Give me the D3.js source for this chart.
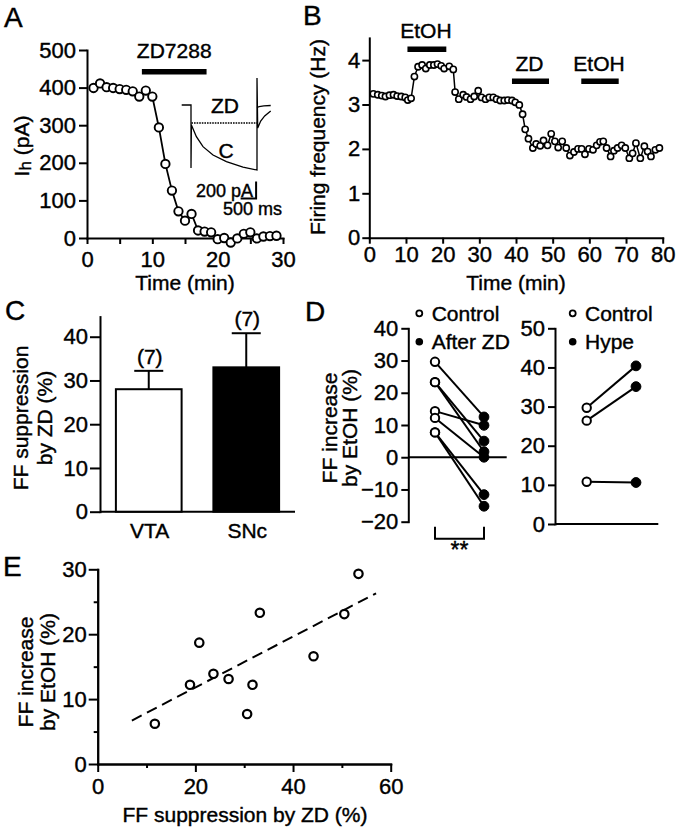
<!DOCTYPE html>
<html><head><meta charset="utf-8">
<script src="https://cdn.jsdelivr.net/npm/d3@7"></script>
<style>
body{margin:0;background:#fff;}
svg text{font-family:'Liberation Sans',Arial,Helvetica,sans-serif;fill:#000;stroke:#000;stroke-width:0.4px;}
</style></head><body>
<svg id="fig" width="680" height="831"></svg>
<script>
// ---------- DATA ----------
// Panel A: Ih over time
const aTime = [1,2,3,4,5,6,7,8,9,10,11,12,13,14,15,16,17,18,19,20,21,22,23,24,25,26,27,28,29];
const aIh   = [399,411,401,399,396,394,390,376,392,376,294,197,126,71,46,64,20,17,15,-3,0,-12,-1,11,15,-1,4,5,6];
const aXTicks = [0,5,10,15,20,25,30];
const aXLabels = [0,10,20,30];
const aYTicks = [0,100,200,300,400,500];
const aDrug = [{label:"ZD7288", from:8.4, to:18.3}];
// Panel A inset traces (ms, pA)
const insetC  = [[0,0],[300,0],[300,-740],[313,-235],[474,-373],[687,-490],[1010,-588],[1442,-667],[1977,-732],[2429,-765],[2429,318],[2452,-271],[2548,-188],[2677,-129],[2871,-71]];
const insetZD = [[313,-212],[2429,-212]];
const insetZDTail = [[2429,-30],[2500,-18],[2650,-10],[2871,-6]];
const insetScale = {ms:500, pA:200};

// Panel B: firing frequency
const bTime = [1.1,2.3,3.4,4.4,5.5,6.6,7.6,8.7,9.8,10.5,11.4,12.3,13.3,14.4,15.4,16.5,17.6,18.6,19.6,20.4,21.8,22.9,23.4,24.4,25.6,26.5,27.6,28.6,29.7,30.6,31.7,32.7,33.8,34.7,35.7,36.8,37.8,38.9,39.8,40.9,41.8,42.5,43.4,44.6,45.5,46.6,47.5,48.6,49.6,50.6,51.5,52.6,53.7,54.7,55.8,56.9,57.9,58.8,59.9,61.0,62.0,62.9,63.8,64.7,65.8,66.7,67.7,68.8,69.8,70.9,71.8,72.7,73.9,75.0,75.9,76.8,78.0,79.1];
const bFreq = [3.24,3.22,3.20,3.18,3.21,3.22,3.19,3.18,3.16,3.10,3.14,3.63,3.85,3.89,3.81,3.89,3.89,3.91,3.87,3.81,3.86,3.79,3.28,3.12,3.22,3.17,3.12,3.18,3.31,3.16,3.12,3.16,3.16,3.12,3.09,3.09,3.10,3.09,3.05,2.99,2.78,2.44,2.23,2.02,2.11,2.07,2.19,2.08,2.34,2.17,2.03,2.17,2.02,1.85,1.93,2.00,2.00,1.88,2.00,1.98,2.08,2.16,2.17,2.02,1.83,1.96,2.02,2.08,2.02,1.79,1.90,2.13,1.79,2.06,1.94,1.83,1.98,2.02];
const bXTicks = [0,10,20,30,40,50,60,70,80];
const bYTicks = [0,1,2,3,4];
const bDrugs = [{label:"EtOH", from:10.4, to:21.0, row:0},{label:"ZD", from:38.9, to:49.0, row:1},{label:"EtOH", from:57.8, to:68.0, row:1}];

// Panel C: bars
const cCats = ["VTA","SNc"];
const cMean = [28.0, 33.0];
const cSem  = [4.2, 7.8];
const cN    = ["(7)","(7)"];
const cYTicks = [0,10,20,30,40];

// Panel D left: control vs after ZD
const dGroups = ["Control","After ZD"];
const dCtrl = [29.6, 23.3, 23.3, 14.3, 12.2, 7.7, 7.7];
const dZD   = [12.5, 5.0, 1.7, 9.9, 0.0, -11.6, -15.2];
const dYTicks = [-20,-10,0,10,20,30,40];
// Panel D right: control vs Hype
const hGroups = ["Control","Hype"];
const hCtrl = [29.7, 26.4, 10.8];
const hHype = [40.4, 35.1, 10.6];
const hYTicks = [0,10,20,30,40,50];

// Panel E: scatter
const eX = [11.7,18.9,20.8,23.7,26.8,30.6,31.7,33.2,44.2,50.5,53.4];
const eY = [6.2,12.2,18.7,13.9,13.1,7.7,12.2,23.3,16.6,23.1,29.3];
const eFitX = [7, 57];
const eFitY = [6.7, 26.3];
const eXMajor = [0,20,40,60], eXMinor = [10,30,50];
const eYMajor = [0,10,20,30], eYMinor = [5,15,25];

// ---------- DRAWING ----------
const FONT = "'Liberation Sans', Arial, Helvetica, sans-serif";
const FS = 21, TFS = 22;
const svg = d3.select("#fig");

function axisStyle(g){
  g.attr("font-family", FONT).attr("font-size", TFS);
  g.select(".domain").attr("stroke","#000").attr("stroke-width",2).attr("stroke-linecap","square");
  g.selectAll(".tick line").attr("stroke","#000").attr("stroke-width",2);
  g.selectAll(".tick text").attr("fill","#000");
}
function label(x,y,s,size,anchor){
  return svg.append("text").attr("x",x).attr("y",y).attr("font-size",size||FS)
    .attr("text-anchor",anchor||"start").text(s);
}
function vlabel(x,y,s,size){
  return svg.append("text").attr("transform",`translate(${x},${y}) rotate(-90)`)
    .attr("font-size",size||FS).attr("text-anchor","middle").text(s);
}
const fmtInt = d3.format("d");

// Panel letters
label(4,27,"A",28); label(303,25,"B",28); label(5,320,"C",28); label(305,321,"D",28); label(3,576,"E",28);

// ===== Panel A =====
const aX = d3.scaleLinear().domain([0,30]).range([87,283]);
const aY = d3.scaleLinear().domain([0,500]).range([238,50]);
svg.append("g").attr("transform","translate(0,238)")
  .call(d3.axisBottom(aX).tickValues(aXTicks).tickFormat(d=>aXLabels.includes(d)?d:"").tickSize(6).tickPadding(7).tickSizeOuter(0)).call(axisStyle);
svg.append("g").attr("transform","translate(87,0)")
  .call(d3.axisLeft(aY).tickValues(aYTicks).tickSize(8).tickPadding(3).tickSizeOuter(0)).call(axisStyle);
const aPts = aTime.map((t,i)=>[t,aIh[i]]);
svg.append("path").datum(aPts).attr("fill","none").attr("stroke","#000").attr("stroke-width",1.8)
  .attr("d", d3.line().x(d=>aX(d[0])).y(d=>aY(d[1])));
svg.append("g").selectAll("circle").data(aPts).join("circle")
  .attr("cx",d=>aX(d[0])).attr("cy",d=>aY(d[1])).attr("r",4.2)
  .attr("fill","#fff").attr("stroke","#000").attr("stroke-width",1.9);
aDrug.forEach(b=>{
  svg.append("rect").attr("x",aX(b.from)).attr("y",69).attr("width",aX(b.to)-aX(b.from)).attr("height",5.5).attr("fill","#000");
  label((aX(b.from)+aX(b.to))/2,58,b.label,FS,"middle");
});
label(185,290,"Time (min)",FS,"middle");
const ihLab = svg.append("text").attr("transform","translate(29,146) rotate(-90)").attr("font-size",FS).attr("text-anchor","middle");
ihLab.append("tspan").text("I");
ihLab.append("tspan").attr("font-size",17).attr("dy",2).text("h");
ihLab.append("tspan").attr("dy",-2).text(" (pA)");

// inset
const iX = d3.scaleLinear().domain([0,3000]).range([181.7,274.7]);
const iY = d3.scaleLinear().domain([0,-800]).range([105,173]);
const iLine = d3.line().x(d=>iX(d[0])).y(d=>iY(d[1]));
svg.append("path").datum(insetC).attr("fill","none").attr("stroke","#000").attr("stroke-width",1.3).attr("d",iLine);
svg.append("path").datum(insetZD).attr("fill","none").attr("stroke","#000").attr("stroke-width",1.3).attr("stroke-dasharray","1.6,1").attr("d",iLine);
svg.append("path").datum(insetZDTail).attr("fill","none").attr("stroke","#000").attr("stroke-width",1.3).attr("d",iLine);
label(225,113,"ZD",FS,"middle");
label(226,158,"C",FS,"middle");
// scale bars
const sbT = 2400, sbP = -900;
svg.append("path").attr("fill","none").attr("stroke","#000").attr("stroke-width",2)
  .attr("d",`M${iX(sbT)},${iY(sbP)}V${iY(sbP-insetScale.pA)}H${iX(sbT-insetScale.ms)}`);
label(iX(sbT)-3,197,"200 pA",18,"end");
label(223,215,"500 ms",18,"start");

// ===== Panel B =====
const bX = d3.scaleLinear().domain([0,80]).range([369.3,662.7]);
const bY = d3.scaleLinear().domain([0,4.5]).range([237.7,37.9]);
svg.append("g").attr("transform","translate(0,237.7)")
  .call(d3.axisBottom(bX).tickValues(bXTicks).tickFormat(fmtInt).tickSize(6).tickPadding(3).tickSizeOuter(0)).call(axisStyle);
svg.append("g").attr("transform","translate(369.3,0)")
  .call(d3.axisLeft(bY).tickValues(bYTicks).tickFormat(fmtInt).tickSize(7).tickPadding(2).tickSizeOuter(0)).call(axisStyle);
const bPts = bTime.map((t,i)=>[t,bFreq[i]]);
svg.append("path").datum(bPts).attr("fill","none").attr("stroke","#000").attr("stroke-width",1.5)
  .attr("d", d3.line().x(d=>bX(d[0])).y(d=>bY(d[1])));
svg.append("g").selectAll("circle").data(bPts).join("circle")
  .attr("cx",d=>bX(d[0])).attr("cy",d=>bY(d[1])).attr("r",3.1)
  .attr("fill","#fff").attr("stroke","#000").attr("stroke-width",1.6);
const rowBarY = [46.5, 78.5], rowTextY = [38, 70.7];
bDrugs.forEach(b=>{
  svg.append("rect").attr("x",bX(b.from)).attr("y",rowBarY[b.row]).attr("width",bX(b.to)-bX(b.from)).attr("height",5.5).attr("fill","#000");
  label((bX(b.from)+bX(b.to))/2-1,rowTextY[b.row],b.label,FS,"middle");
});
label(516,290,"Time (min)",FS,"middle");
vlabel(325,137,"Firing frequency (Hz)");

// ===== Panel C =====
const cX = d3.scaleBand().domain(cCats).range([100,295]).paddingInner(0.326).paddingOuter(0.163);
const cY = d3.scaleLinear().domain([0,44.6]).range([511.7,316.6]);
svg.append("g").attr("transform","translate(100,0)")
  .call(d3.axisLeft(cY).tickValues(cYTicks).tickSize(10).tickPadding(2).tickSizeOuter(0)).call(axisStyle);
svg.append("line").attr("x1",100).attr("x2",295).attr("y1",cY(0)).attr("y2",cY(0)).attr("stroke","#000").attr("stroke-width",2);
const cFill = ["#fff","#000"];
cCats.forEach((c,i)=>{
  const cx = cX(c)+cX.bandwidth()/2;
  svg.append("line").attr("x1",cx).attr("x2",cx).attr("y1",cY(cMean[i])).attr("y2",cY(cMean[i]+cSem[i])).attr("stroke","#000").attr("stroke-width",2);
  svg.append("line").attr("x1",cx-14.5).attr("x2",cx+14.5).attr("y1",cY(cMean[i]+cSem[i])).attr("y2",cY(cMean[i]+cSem[i])).attr("stroke","#000").attr("stroke-width",2);
  svg.append("rect").attr("x",cX(c)).attr("width",cX.bandwidth()).attr("y",cY(cMean[i])).attr("height",cY(0)-cY(cMean[i]))
    .attr("fill",cFill[i]).attr("stroke","#000").attr("stroke-width",2);
  label(cx+1,cY(cMean[i]+cSem[i])-7,cN[i],FS,"middle");
  label(cx+1,538,c,FS,"middle");
});
vlabel(28,418,"FF suppression");
vlabel(52,418,"by ZD (%)");

// ===== Panel D left =====
const dX = d3.scalePoint().domain(dGroups).range([435,484]);
const dY = d3.scaleLinear().domain([-20,40]).range([521.7,328.3]);
svg.append("g").attr("transform","translate(408.3,0)")
  .call(d3.axisLeft(dY).tickValues(dYTicks).tickSize(7).tickPadding(3).tickSizeOuter(0)).call(axisStyle);
svg.append("line").attr("x1",408.3).attr("x2",506.7).attr("y1",dY(0)).attr("y2",dY(0)).attr("stroke","#000").attr("stroke-width",2);
dCtrl.forEach((v,i)=>{
  svg.append("line").attr("x1",dX("Control")).attr("y1",dY(v)).attr("x2",dX("After ZD")).attr("y2",dY(dZD[i])).attr("stroke","#000").attr("stroke-width",2);
});
dCtrl.forEach(v=>svg.append("circle").attr("cx",dX("Control")).attr("cy",dY(v)).attr("r",4.2).attr("fill","#fff").attr("stroke","#000").attr("stroke-width",2));
dZD.forEach(v=>svg.append("circle").attr("cx",dX("After ZD")).attr("cy",dY(v)).attr("r",4.9).attr("fill","#000").attr("stroke","#000").attr("stroke-width",1));
// significance bracket
const brY = dY(-20)+17;
svg.append("path").attr("fill","none").attr("stroke","#000").attr("stroke-width",2)
  .attr("d",`M${dX("Control")},${dY(-20)+5}V${brY}H${dX("After ZD")}V${dY(-20)+5}`);
label((dX("Control")+dX("After ZD"))/2,558,"**",23,"middle");
// legend
svg.append("circle").attr("cx",419.3).attr("cy",313.3).attr("r",3).attr("fill","#fff").attr("stroke","#000").attr("stroke-width",1.8);
label(431.7,320.7,dGroups[0]);
svg.append("circle").attr("cx",419.3).attr("cy",341.7).attr("r",3.8).attr("fill","#000");
label(431.7,348.5,dGroups[1]);
vlabel(337,428,"FF increase");
vlabel(357,428,"by EtOH (%)");

// ===== Panel D right =====
const hX = d3.scalePoint().domain(hGroups).range([586.7,636]);
const hY = d3.scaleLinear().domain([0,50]).range([524,328.3]);
svg.append("g").attr("transform","translate(555,0)")
  .call(d3.axisLeft(hY).tickValues(hYTicks).tickSize(7).tickPadding(3).tickSizeOuter(0)).call(axisStyle);
svg.append("line").attr("x1",555).attr("x2",658.3).attr("y1",hY(0)).attr("y2",hY(0)).attr("stroke","#000").attr("stroke-width",2);
hCtrl.forEach((v,i)=>{
  svg.append("line").attr("x1",hX("Control")).attr("y1",hY(v)).attr("x2",hX("Hype")).attr("y2",hY(hHype[i])).attr("stroke","#000").attr("stroke-width",2);
});
hCtrl.forEach(v=>svg.append("circle").attr("cx",hX("Control")).attr("cy",hY(v)).attr("r",4.2).attr("fill","#fff").attr("stroke","#000").attr("stroke-width",2));
hHype.forEach(v=>svg.append("circle").attr("cx",hX("Hype")).attr("cy",hY(v)).attr("r",4.9).attr("fill","#000").attr("stroke","#000").attr("stroke-width",1));
svg.append("circle").attr("cx",572.7).attr("cy",313.3).attr("r",3).attr("fill","#fff").attr("stroke","#000").attr("stroke-width",1.8);
label(585,320.7,hGroups[0]);
svg.append("circle").attr("cx",572.7).attr("cy",341.7).attr("r",3.8).attr("fill","#000");
label(585,348.5,hGroups[1]);

// ===== Panel E =====
const eXs = d3.scaleLinear().domain([0,60]).range([97.7,390.7]);
const eYs = d3.scaleLinear().domain([0,30]).range([764,569.3]);
svg.append("g").attr("transform","translate(0,764)")
  .call(d3.axisBottom(eXs).tickValues(eXMinor).tickSize(4).tickFormat("").tickSizeOuter(0)).call(axisStyle);
svg.append("g").attr("transform","translate(0,764)")
  .call(d3.axisBottom(eXs).tickValues(eXMajor).tickSize(8).tickPadding(6).tickSizeOuter(0)).call(axisStyle);
svg.append("g").attr("transform","translate(97.7,0)")
  .call(d3.axisLeft(eYs).tickValues(eYMinor).tickSize(4).tickFormat("").tickSizeOuter(0)).call(axisStyle);
svg.append("g").attr("transform","translate(97.7,0)")
  .call(d3.axisLeft(eYs).tickValues(eYMajor).tickSize(9).tickPadding(2).tickSizeOuter(0)).call(axisStyle);
svg.append("path").datum(eFitX.map((x,i)=>[x,eFitY[i]])).attr("fill","none").attr("stroke","#000").attr("stroke-width",2)
  .attr("stroke-dasharray","11,6").attr("d",d3.line().x(d=>eXs(d[0])).y(d=>eYs(d[1])));
svg.append("g").selectAll("circle").data(eX.map((x,i)=>[x,eY[i]])).join("circle")
  .attr("cx",d=>eXs(d[0])).attr("cy",d=>eYs(d[1])).attr("r",4.2)
  .attr("fill","#fff").attr("stroke","#000").attr("stroke-width",2.2);
label(245,821.7,"FF suppression by ZD (%)",FS,"middle");
vlabel(33,672,"FF increase");
vlabel(55,672,"by EtOH (%)");
</script>
</body></html>
